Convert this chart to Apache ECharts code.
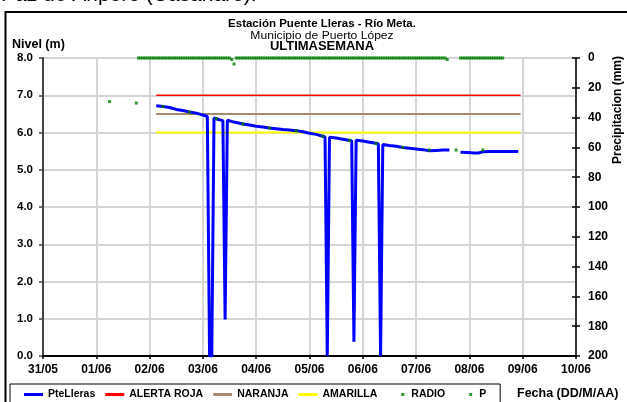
<!DOCTYPE html>
<html><head><meta charset="utf-8">
<script src="https://cdn.jsdelivr.net/npm/echarts@6/dist/echarts.min.js"></script>
<style>html,body{margin:0;padding:0;background:#fff;overflow:hidden}#c{width:627px;height:402px}</style>
</head><body><div id="c"></div>
<script>
// ---------- DATA ----------
const YEAR = 2010;
const xLabels = ['31/05','01/06','02/06','03/06','04/06','05/06','06/06','07/06','08/06','09/06','10/06'];
const levelTimes = [
  '02/06 03:00','02/06 06:00','02/06 09:00','02/06 12:00','02/06 15:00','02/06 18:00','02/06 21:00',
  '03/06 00:00','03/06 02:00','03/06 03:00','03/06 04:00','03/06 05:00','03/06 07:00','03/06 09:00','03/06 10:00','03/06 11:00','03/06 14:00','03/06 18:00','03/06 21:00',
  '04/06 00:00','04/06 03:00','04/06 06:00','04/06 09:00','04/06 12:00','04/06 15:00','04/06 18:00','04/06 21:00',
  '05/06 00:00','05/06 03:00','05/06 06:00','05/06 07:00','05/06 08:00','05/06 09:00','05/06 12:00','05/06 15:00','05/06 19:00','05/06 20:00','05/06 21:00',
  '06/06 00:00','06/06 03:00','06/06 06:00','06/06 07:00','06/06 08:00','06/06 09:00','06/06 12:00','06/06 15:00','06/06 18:00','06/06 21:00',
  '07/06 00:00','07/06 03:00','07/06 06:00','07/06 09:00','07/06 12:00','07/06 15:00','07/06 16:00','07/06 20:00','07/06 23:00',
  '08/06 02:00','08/06 04:00','08/06 06:00','08/06 09:00','08/06 12:00','08/06 15:00','08/06 18:00','08/06 22:00'
];
const levelValues = [
  6.72,6.70,6.67,6.62,6.59,6.55,6.52,
  6.47,6.43,0.0,0.0,6.39,6.35,6.32,0.98,6.33,6.28,6.23,6.20,
  6.17,6.15,6.12,6.10,6.08,6.07,6.05,6.02,
  5.98,5.95,5.90,5.88,0.0,5.87,5.85,5.82,5.78,0.38,5.79,
  5.77,5.74,5.71,5.70,0.0,5.68,5.65,5.63,5.60,5.58,
  5.56,5.54,5.51,5.52,5.53,5.53,null,5.47,5.46,
  5.45,5.45,5.48,5.49,5.49,5.49,5.49,5.49
];
const radioTimes = ['01/06 06:00','01/06 18:00','02/06 06:00','02/06 18:00','03/06 06:00','03/06 18:00','04/06 06:00','04/06 18:00',
  '05/06 06:00','05/06 18:00','06/06 06:00','06/06 18:00','07/06 06:00','07/06 18:00','08/06 06:00'];
const radioValues = [6.83,6.79,6.70,6.55,6.37,6.23,6.12,6.05,5.90,5.79,5.70,5.60,5.53,5.53,5.53];
// hourly precipitation (mm) from pStart
const pStart = '01/06 19:00';
const pValues = [
  0,0,0,0,0,
  0,0,0,0,0,0,0,0,0,0,0,0,0,0,0,0,0,0,0,0,0,0,0,0,
  0,0,0,0,0,0,0,0,0,0,0,0,0,1.0,4.0,0,0,0,0,0,0,0,0,0,
  0,0,0,0,0,0,0,0,0,0,0,0,0,0,0,0,0,0,0,0,0,0,0,0,
  0,0,0,0,0,0,0,0,0,0,0,0,0,0,0,0,0,0,0,0,0,0,0,0,
  0,0,0,0,0,0,0,0,0,0,0,0,0,0,0,0,0,0,0,0,0,0,0,0,
  0,0,0,0,0,0,0,0,0,0,0,0,0,0,1.0,null,null,null,null,null,0,0,0,0,
  0,0,0,0,0,0,0,0,0,0,0,0,0,0,0,0
];
const alertStart = '02/06 03:00', alertEnd = '08/06 23:00';
const alertRoja = 7.0, alertNaranja = 6.5, alertAmarilla = 6.0;
const seriesNames = ['PteLleras','ALERTA ROJA','NARANJA','AMARILLA','RADIO','P'];

// ---------- HELPERS ----------
const DAY = 86400000, HOUR = 3600000;
function ts(s){ const m = s.match(/(\d+)\/(\d+) (\d+):(\d+)/); return Date.UTC(YEAR, +m[2]-1, +m[1], +m[3], +m[4]); }
const xMin = ts('31/05 00:00'), xMax = ts('10/06 00:00');
const FONT = '"Liberation Sans", Arial, sans-serif';

const levelData = levelTimes.map((t,i)=>[ts(t), levelValues[i]]);
const radioData = radioTimes.map((t,i)=>[ts(t), radioValues[i]]);
const p0 = ts(pStart);
const pData = pValues.map((v,i)=>[p0 + i*HOUR, v]).filter(d=>d[1]!==null);
const alertLine = v => [[ts(alertStart), v],[ts(alertEnd), v]];

const chart = echarts.init(document.getElementById('c'), null, {renderer:'canvas'});
const dotIcon = 'path://M0,0M19,3M14,0h3v3h-3z';
function txt(x,y,text,font,align,extra){
  return Object.assign({type:'text',x:x,y:y,silent:true,style:{text:text,font:font,fill:'#000',textAlign:align,textVerticalAlign:'middle',align:align,verticalAlign:'middle'}},extra||{});
}
chart.setOption({
  animation:false,
  backgroundColor:'#fff',
  grid:{left:43,right:51,top:58,bottom:46},
  xAxis:{type:'value',min:xMin,max:xMax,interval:DAY,
    axisLine:{show:true,lineStyle:{color:'#000',width:2}},
    axisTick:{show:true,length:3,lineStyle:{color:'#000',width:1.5}},
    splitLine:{show:true,lineStyle:{color:'#d6d6d6',width:2}},
    axisLabel:{margin:8,color:'#000',fontFamily:FONT,fontWeight:'bold',fontSize:12,
      formatter:v=>xLabels[Math.round((v-xMin)/DAY)]}},
  yAxis:[
    {type:'value',position:'left',min:0,max:8,interval:1,
      axisLine:{show:true,lineStyle:{color:'#444',width:2}},
      axisTick:{show:true,length:4,lineStyle:{color:'#444',width:1.5}},
      splitLine:{show:true,lineStyle:{color:'#d6d6d6',width:2}},
      axisLabel:{margin:10,color:'#000',fontFamily:FONT,fontWeight:'bold',fontSize:11.5,formatter:v=>v.toFixed(1)}},
    {type:'value',position:'right',min:0,max:200,interval:20,inverse:true,
      axisLine:{show:true,lineStyle:{color:'#000',width:1.5}},
      axisTick:{show:true,length:4,lineStyle:{color:'#000',width:1.5}},
      splitLine:{show:false},
      axisLabel:{margin:12,color:'#000',fontFamily:FONT,fontWeight:'bold',fontSize:12}},
    {type:'value',position:'right',min:0,max:200,interval:20,inverse:true,
      axisLine:{show:false},axisTick:{show:true,inside:true,length:4,lineStyle:{color:'#000',width:1.5}},
      splitLine:{show:false},axisLabel:{show:false}}
  ],
  legend:{left:10,top:384,padding:[5,14,6,14],borderColor:'#000',borderWidth:1,borderRadius:0,
    itemWidth:19,itemHeight:3,itemGap:10,selectedMode:false,
    textStyle:{fontFamily:FONT,fontWeight:'bold',fontSize:10.5,color:'#000'},
    data:[
      {name:seriesNames[0],icon:'rect'},
      {name:seriesNames[1],icon:'rect'},
      {name:seriesNames[2],icon:'rect'},
      {name:seriesNames[3],icon:'rect'},
      {name:seriesNames[4],icon:dotIcon},
      {name:seriesNames[5],icon:dotIcon}
    ]},
  series:[
    {name:seriesNames[1],type:'line',yAxisIndex:0,data:alertLine(alertRoja),showSymbol:false,color:'#ff0000',lineStyle:{width:1.5,color:'#ff0000'},z:2},
    {name:seriesNames[2],type:'line',yAxisIndex:0,data:alertLine(alertNaranja),showSymbol:false,color:'#a8896c',lineStyle:{width:2,color:'#a8896c'},z:2},
    {name:seriesNames[3],type:'line',yAxisIndex:0,data:alertLine(alertAmarilla),showSymbol:false,color:'#ffff00',lineStyle:{width:2,color:'#ffff00'},z:2},
    {name:seriesNames[0],type:'line',yAxisIndex:0,data:levelData,showSymbol:false,connectNulls:false,color:'#0000ff',lineStyle:{width:3,color:'#0000ff'},z:3},
    {name:seriesNames[4],type:'scatter',yAxisIndex:0,data:radioData,symbol:'rect',symbolSize:3,color:'#008000',itemStyle:{color:'#008000'},z:4,clip:false},
    {name:seriesNames[5],type:'scatter',yAxisIndex:1,data:pData,symbol:'rect',symbolSize:3,color:'#008000',itemStyle:{color:'#008000'},z:4,clip:false}
  ],
  graphic:[
    {type:'rect',shape:{x:5.5,y:12,width:700,height:500},style:{fill:null,stroke:'#000',lineWidth:2},z:0,silent:true},
    txt(1,-4.5,'Paz de Ariporo (Casanare).','21px '+FONT,'left'),
    txt(322,24,'Estación Puente Lleras - Río Meta.','bold 11.5px '+FONT,'center'),
    txt(322,35.5,'Municipio de Puerto López','11px '+FONT,'center',{scaleX:1.1}),
    txt(322,46.5,'ULTIMASEMANA','bold 12px '+FONT,'center',{scaleX:1.08}),
    txt(12,45,'Nivel (m)','bold 12.5px '+FONT,'left'),
    Object.assign(txt(617.5,110,'Precipitacion (mm)','bold 12px '+FONT,'center'),{rotation:Math.PI/2}),
    txt(517,394,'Fecha (DD/M/AA)','bold 12.5px '+FONT,'left')
  ]
});
</script></body></html>
